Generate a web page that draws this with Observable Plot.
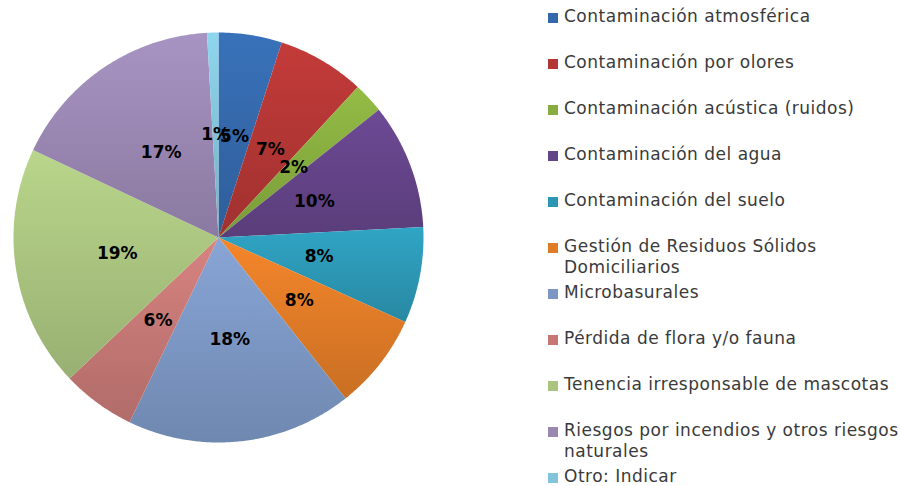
<!DOCTYPE html>
<html><head><meta charset="utf-8">
<script src="https://cdn.jsdelivr.net/npm/d3@7"></script>
<script src="https://cdn.jsdelivr.net/npm/@observablehq/plot@0.6"></script>
<style>
html,body{margin:0;padding:0;background:#fff;}
#chart{position:relative;width:900px;height:486px;overflow:hidden;background:#fff;}
#pie{position:absolute;left:0;top:0;}
#legend{position:absolute;left:548px;top:6px;}
.lg-swatches{font-family:"DejaVu Sans",sans-serif;font-size:17px;color:#3a3a3a;margin:0;letter-spacing:0.5px;}
.lg-swatch{display:flex;align-items:flex-start;height:46px;padding:0;}
.lg-swatch > svg{margin:7px 6px 0 0;}
.lg-swatch-label{white-space:pre-line;line-height:21px;overflow:visible;}
</style></head><body>
<div id="chart"><div id="pie"></div><div id="legend"></div></div>
<script>
// Categories (legend order = slice order, clockwise from 12 o'clock)
const categories = [
  "Contaminación atmosférica",
  "Contaminación por olores",
  "Contaminación acústica (ruidos)",
  "Contaminación del agua",
  "Contaminación del suelo",
  "Gestión de Residuos Sólidos Domiciliarios",
  "Microbasurales",
  "Pérdida de flora y/o fauna",
  "Tenencia irresponsable de mascotas",
  "Riesgos por incendios y otros riesgos naturales",
  "Otro: Indicar"
];
// Legend label text with the reference's line breaks
const legendLabels = [
  "Contaminación atmosférica",
  "Contaminación por olores",
  "Contaminación acústica (ruidos)",
  "Contaminación del agua",
  "Contaminación del suelo",
  "Gestión de Residuos Sólidos\nDomiciliarios",
  "Microbasurales",
  "Pérdida de flora y/o fauna",
  "Tenencia irresponsable de mascotas",
  "Riesgos por incendios y otros riesgos\nnaturales",
  "Otro: Indicar"
];
// Shares (%)
const values = [5.0, 6.9, 2.4, 9.9, 7.6, 7.6, 17.8, 5.8, 19.1, 17.1, 0.9];
// Slice colours
const colors = ["#3468AA","#B23634","#87AC3F","#644488","#2C97B4","#E07B27","#7C97C4","#C57875","#A9C47F","#9A87B2","#82C4DA"];

const total = d3.sum(values);
const arcs = d3.pie().sort(null).value(d => d)(values);

// Slice outlines in unit-circle data space (derived from the pie angles)
const outline = [];
arcs.forEach((a, i) => {
  const cat = categories[i];
  outline.push({cat, x: 0, y: 0});
  const n = Math.max(2, Math.ceil((a.endAngle - a.startAngle) / (Math.PI / 360)));
  for (let k = 0; k <= n; k++) {
    const t = a.startAngle + (a.endAngle - a.startAngle) * k / n;
    outline.push({cat, x: Math.sin(t), y: Math.cos(t)});
  }
});
const labels = arcs.map((a, i) => {
  const m = (a.startAngle + a.endAngle) / 2;
  return {cat: categories[i], x: 0.5 * Math.sin(m), y: 0.5 * Math.cos(m),
          text: Math.round(values[i] / total * 100) + "%"};
});

const gradIds = categories.map((_, i) => "sliceGrad" + i);

const pie = Plot.plot({
  width: 440, height: 486,
  marginLeft: 13, marginRight: 17, marginTop: 32, marginBottom: 44,
  x: {domain: [-1, 1], axis: null},
  y: {domain: [-1, 1], axis: null},
  color: {domain: categories, range: gradIds.map(id => `url(#${id})`)},
  style: {background: "transparent"},
  marks: [
    Plot.line(outline, {x: "x", y: "y", z: "cat", fill: "cat", stroke: null, curve: "linear"}),
    Plot.text(labels, {x: "x", y: "y", text: "text", fill: "#000",
      fontSize: 17, fontWeight: "bold", fontFamily: "DejaVu Sans, sans-serif"})
  ]
});
// gradient definitions (lighter top, darker bottom) for each slice colour
const defs = d3.select(pie).insert("defs", ":first-child");
colors.forEach((c, i) => {
  const g = defs.append("linearGradient").attr("id", gradIds[i])
    .attr("x1", 0).attr("y1", 0).attr("x2", 0).attr("y2", 1);
  g.append("stop").attr("offset", "0%").attr("stop-color", d3.color(c).brighter(0.25).formatHex());
  g.append("stop").attr("offset", "100%").attr("stop-color", d3.color(c).darker(0.3).formatHex());
});
document.getElementById("pie").append(pie);

const legend = Plot.legend({
  color: {domain: categories, range: colors},
  columns: 1,
  swatchSize: 10,
  className: "lg",
  tickFormat: d => legendLabels[categories.indexOf(d)]
});
document.getElementById("legend").append(legend);
</script>
</body></html>
